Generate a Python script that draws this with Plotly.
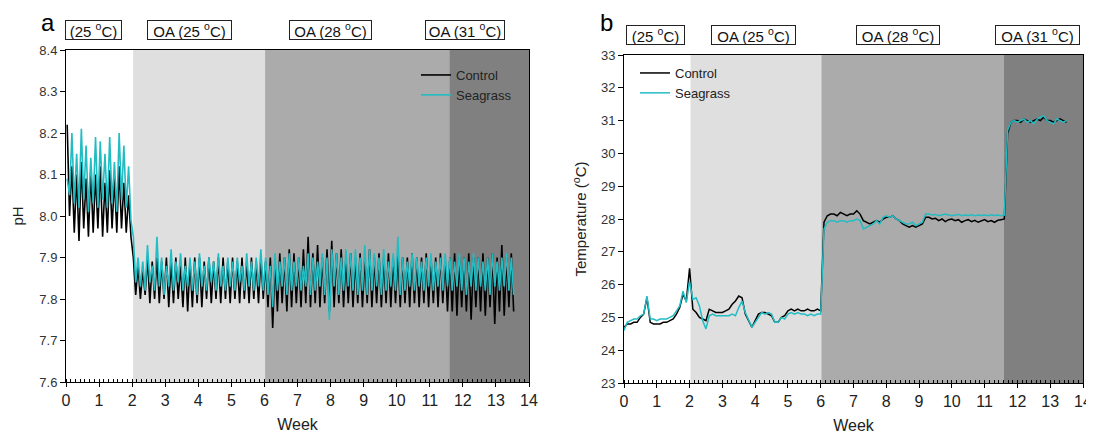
import plotly.graph_objects as go

# ---------------- data ----------------
# pH: daily maximum / minimum (one value per day, day 0 .. 94)
ph_seagrass_high = [
    8.09, 8.20, 8.15, 8.21, 8.17, 8.14, 8.19, 8.18, 8.15, 8.19, 8.13, 8.20, 8.17, 8.12,
    7.95, 7.90, 7.89, 7.93, 7.88, 7.95, 7.90, 7.88, 7.92, 7.89, 7.91, 7.88, 7.90, 7.89,
    7.91, 7.88, 7.90, 7.89, 7.91, 7.88, 7.90, 7.89, 7.90, 7.88, 7.91, 7.89, 7.90, 7.92,
    7.90, 7.88, 7.91, 7.89, 7.90, 7.91, 7.89, 7.90, 7.88, 7.91,
    7.90, 7.89, 7.91, 7.90, 7.92, 7.91, 7.90, 7.92, 7.91, 7.92,
    7.90, 7.93, 7.92, 7.91, 7.90, 7.92, 7.89, 7.91, 7.95, 7.90,
    7.89, 7.91, 7.90, 7.89, 7.90, 7.91, 7.89, 7.90, 7.91,
    7.90, 7.89, 7.91, 7.90, 7.89, 7.91, 7.90, 7.89, 7.90, 7.91, 7.89, 7.90, 7.91, 7.90,
]
ph_seagrass_low = [
    8.05, 8.03, 8.02, 8.04, 8.01, 8.03, 8.02, 8.04, 8.02, 8.03, 8.01, 8.04, 8.02, 7.99,
    7.84, 7.83, 7.82, 7.84, 7.82, 7.83, 7.81, 7.83, 7.82, 7.84, 7.82, 7.83, 7.82, 7.81,
    7.83, 7.82, 7.84, 7.82, 7.83, 7.82, 7.83, 7.82, 7.84, 7.82, 7.83, 7.82, 7.83, 7.82,
    7.81, 7.78, 7.82, 7.83, 7.81, 7.82, 7.83, 7.82, 7.83, 7.81,
    7.82, 7.83, 7.81, 7.75, 7.83, 7.81, 7.82, 7.83, 7.82, 7.81,
    7.82, 7.81, 7.82, 7.83, 7.81, 7.82, 7.83, 7.82, 7.81, 7.82,
    7.83, 7.82, 7.83, 7.82, 7.83, 7.82, 7.83, 7.82, 7.83,
    7.82, 7.83, 7.82, 7.81, 7.83, 7.82, 7.83, 7.82, 7.81, 7.83, 7.82, 7.83, 7.82, 7.81,
]
ph_control_high = [
    8.22, 8.12, 8.10, 8.13, 8.09, 8.11, 8.10, 8.12, 8.08, 8.11, 8.09, 8.12, 8.08, 8.05,
    7.90, 7.88, 7.87, 7.90, 7.89, 7.90, 7.89, 7.90, 7.89, 7.90, 7.88, 7.90, 7.89, 7.90,
    7.90, 7.89, 7.90, 7.89, 7.90, 7.90, 7.89, 7.90, 7.89, 7.90, 7.89, 7.90, 7.89, 7.90,
    7.89, 7.90, 7.89, 7.91, 7.90, 7.92, 7.91, 7.90, 7.92, 7.95,
    7.91, 7.93, 7.90, 7.92, 7.94, 7.91, 7.92, 7.90, 7.91, 7.90,
    7.91, 7.90, 7.92, 7.90, 7.91, 7.90, 7.91, 7.90, 7.91, 7.90,
    7.90, 7.91, 7.90, 7.90, 7.91, 7.90, 7.90, 7.91, 7.90,
    7.90, 7.91, 7.90, 7.90, 7.91, 7.90, 7.90, 7.91, 7.90, 7.91, 7.90, 7.93, 7.90, 7.91,
]
ph_control_low = [
    8.00, 7.96, 7.94, 7.97, 7.95, 7.96, 7.97, 7.95, 7.96, 7.97, 7.96, 7.97, 7.96, 7.95,
    7.81, 7.80, 7.81, 7.79, 7.80, 7.79, 7.80, 7.78, 7.79, 7.80, 7.78, 7.77, 7.78, 7.79,
    7.78, 7.80, 7.79, 7.80, 7.79, 7.80, 7.79, 7.80, 7.79, 7.80, 7.79, 7.80, 7.79, 7.80,
    7.78, 7.73, 7.77, 7.79, 7.77, 7.78, 7.79, 7.78, 7.79, 7.78,
    7.79, 7.78, 7.79, 7.77, 7.78, 7.79, 7.78, 7.79, 7.78, 7.79,
    7.78, 7.79, 7.78, 7.79, 7.78, 7.79, 7.78, 7.79, 7.78, 7.79,
    7.78, 7.79, 7.78, 7.79, 7.78, 7.79, 7.78, 7.79, 7.77,
    7.77, 7.76, 7.78, 7.77, 7.75, 7.78, 7.77, 7.76, 7.78, 7.74, 7.77, 7.76, 7.78, 7.77,
]

# Temperature (deg C), sampled every 0.1 week from week 0.0 to 13.5
temp_seagrass = [
    24.60, 24.85, 24.90, 24.95, 24.95, 25.05, 25.10, 25.65, 24.95, 24.95,
    24.90, 24.95, 24.95, 24.95, 25.00, 25.05, 25.20, 25.35, 25.80, 25.45,
    26.10, 25.55, 25.60, 25.35, 24.90, 24.65, 25.05, 25.10, 25.05, 25.05,
    25.05, 25.05, 25.05, 25.10, 25.05, 25.30, 25.50, 25.15, 24.90, 24.70,
    24.85, 25.00, 25.15, 25.10, 25.15, 25.10, 24.85, 24.85, 25.00, 24.95,
    25.10, 25.15, 25.10, 25.15, 25.10, 25.10, 25.05, 25.10, 25.05, 25.10,
    25.10, 27.70, 27.90, 27.95, 27.95, 27.90, 27.95, 27.95, 27.90, 27.95,
    27.95, 28.00, 27.95, 27.70, 27.75, 27.80, 27.85, 27.95, 27.85, 28.05,
    28.10, 28.05, 28.10, 28.00, 27.95, 27.90, 27.85, 27.85, 27.90, 27.80,
    27.85, 27.90, 28.15, 28.15, 28.12, 28.14, 28.10, 28.12, 28.15, 28.12,
    28.10, 28.12, 28.14, 28.10, 28.12, 28.11, 28.13, 28.10, 28.12, 28.11,
    28.12, 28.10, 28.13, 28.11, 28.12, 28.10, 28.12, 30.70, 30.95, 31.00,
    30.95, 31.00, 31.05, 30.95, 31.00, 30.90, 31.05, 31.10, 31.15, 31.00,
    30.95, 30.90, 31.05, 31.00, 30.95, 31.00,
]
temp_control = [
    24.70, 24.80, 24.80, 24.85, 24.85, 25.00, 25.10, 25.60, 24.85, 24.80,
    24.80, 24.80, 24.85, 24.85, 24.90, 24.95, 25.10, 25.30, 25.70, 25.50,
    26.50, 25.25, 25.15, 25.00, 24.95, 24.90, 25.25, 25.20, 25.15, 25.15,
    25.15, 25.20, 25.25, 25.40, 25.50, 25.65, 25.60, 25.10, 24.90, 24.70,
    24.90, 25.10, 25.15, 25.15, 25.10, 25.05, 24.85, 24.85, 25.00, 25.05,
    25.20, 25.25, 25.20, 25.25, 25.20, 25.20, 25.25, 25.20, 25.20, 25.25,
    25.20, 27.90, 28.10, 28.15, 28.15, 28.10, 28.20, 28.15, 28.10, 28.15,
    28.15, 28.25, 28.15, 27.95, 27.90, 27.85, 27.90, 27.95, 27.90, 28.00,
    28.05, 28.05, 28.10, 28.00, 27.95, 27.85, 27.80, 27.75, 27.80, 27.75,
    27.80, 27.85, 28.05, 28.05, 28.00, 28.02, 27.95, 28.00, 27.92, 27.98,
    28.00, 27.95, 27.98, 27.90, 27.95, 27.98, 27.92, 27.96, 27.90, 27.95,
    27.98, 27.92, 27.95, 27.90, 27.96, 27.98, 28.00, 30.60, 30.95, 31.00,
    31.00, 30.95, 31.05, 31.00, 30.95, 31.00, 31.05, 31.00, 31.10, 31.00,
    31.00, 30.95, 31.00, 31.05, 31.00, 30.95,
]

# treatment phases (week boundaries) and their header labels
phase_start = [0, 2.03, 6.02, 11.59]
phase_end = [2.03, 6.02, 11.59, 14]
phase_color = ["#ffffff", "#dfdfdf", "#ababab", "#808080"]
phase_label = ["(25 <sup>o</sup>C)", "OA (25 <sup>o</sup>C)", "OA (28 <sup>o</sup>C)", "OA (31 <sup>o</sup>C)"]

week_ticks = list(range(0, 15))


def interleave(high, low):
    t, v = [], []
    for d, (h, l) in enumerate(zip(high, low)):
        t += [(d + 0.25) / 7, (d + 0.75) / 7]
        v += [h, l]
    return t, v


ph_ct_t, ph_ct_v = interleave(ph_control_high, ph_control_low)
ph_sg_t, ph_sg_v = interleave(ph_seagrass_high, ph_seagrass_low)
temp_weeks = [i / 10 for i in range(len(temp_seagrass))]

# ---------------- figure ----------------
# the page body adds an 8 px margin, so the figure is 8 px smaller and all
# screen positions are shifted by 8 px
OFF = 8
W, H = 1094 - OFF, 436 - OFF


def px(x):
    return (x - OFF) / W


def py(y):
    return 1 - (y - OFF) / H


FONT = "Arial, Liberation Sans, sans-serif"
CYAN = "#22bcc3"

fig = go.Figure()

fig.add_trace(go.Scatter(x=ph_ct_t, y=ph_ct_v, mode="lines", name="Control",
                         line=dict(color="black", width=1.6), xaxis="x", yaxis="y", legend="legend"))
fig.add_trace(go.Scatter(x=ph_sg_t, y=ph_sg_v, mode="lines", name="Seagrass",
                         line=dict(color=CYAN, width=1.6), xaxis="x", yaxis="y", legend="legend"))
fig.add_trace(go.Scatter(x=temp_weeks, y=temp_control, mode="lines", name="Control",
                         line=dict(color="black", width=1.5), xaxis="x2", yaxis="y2", legend="legend2"))
fig.add_trace(go.Scatter(x=temp_weeks, y=temp_seagrass, mode="lines", name="Seagrass",
                         line=dict(color=CYAN, width=1.5), xaxis="x2", yaxis="y2", legend="legend2"))

# phase shading
for xr, yr in (("x", "y"), ("x2", "y2")):
    for s, e, c in zip(phase_start, phase_end, phase_color):
        fig.add_shape(type="rect", xref=xr, yref=yr + " domain", x0=s, x1=e, y0=0, y1=1,
                      fillcolor=c, line=dict(width=0), layer="below")

# header boxes: (left, right) pixel edges
hdr_a = [(65, 122), (147, 232), (289, 372), (425, 505)]
hdr_b = [(626, 685), (711, 796), (856, 940), (995, 1080)]
for boxes, cy in ((hdr_a, 30), (hdr_b, 35)):
    for (l, r), lab in zip(boxes, phase_label):
        fig.add_annotation(xref="paper", yref="paper", x=px((l + r) / 2), y=py(cy), text=lab,
                           showarrow=False, font=dict(family=FONT, size=15, color="#111"),
                           width=r - l - 2, height=18, align="center",
                           bordercolor="#222", borderwidth=1, borderpad=0, bgcolor="white",
                           xanchor="center", yanchor="middle")

# panel letters
fig.add_annotation(xref="paper", yref="paper", x=px(48), y=py(23), text="a", showarrow=False,
                   font=dict(family=FONT, size=24, color="black"), xanchor="center", yanchor="middle")
fig.add_annotation(xref="paper", yref="paper", x=px(606), y=py(23), text="b", showarrow=False,
                   font=dict(family=FONT, size=24, color="black"), xanchor="center", yanchor="middle")

xcommon = dict(range=[0, 14], tickmode="array", tickvals=week_ticks, ticks="outside", ticklen=4,
               tickcolor="black", showline=True, linecolor="black", linewidth=1, mirror=True,
               showgrid=False, zeroline=False, automargin=False,
               tickfont=dict(family=FONT, size=16, color="#222"),
               minor=dict(dtick=1 / 7, tick0=0, ticks="inside", ticklen=3, tickcolor="black", showgrid=False),
               title=dict(text="Week", font=dict(family=FONT, size=16, color="#222"), standoff=10))
ycommon = dict(ticks="outside", ticklen=5, tickcolor="black", showline=True, linecolor="black",
               linewidth=1, mirror=True, showgrid=False, zeroline=False, automargin=False,
               tickfont=dict(family=FONT, size=13, color="#333"))

fig.update_layout(
    width=W, height=H, margin=dict(l=0, r=0, t=0, b=0),
    paper_bgcolor="white", plot_bgcolor="white",
    font=dict(family=FONT, color="#222"),
    xaxis=dict(domain=[px(66), px(529)], anchor="y", **xcommon),
    yaxis=dict(domain=[py(382), py(50)], anchor="x", range=[7.6, 8.4], dtick=0.1,
               tick0=7.6, tickformat=".1f",
               title=dict(text="pH", font=dict(family=FONT, size=15, color="#222"), standoff=12),
               **ycommon),
    xaxis2=dict(domain=[px(624), px(1083)], anchor="y2", **xcommon),
    yaxis2=dict(domain=[py(383), py(55)], anchor="x2", range=[23, 33], dtick=1, tick0=23,
                title=dict(text="Temperature (<sup>o</sup>C)", font=dict(family=FONT, size=15, color="#222"),
                           standoff=10),
                **ycommon),
    legend=dict(x=px(416), y=py(60), xanchor="left", yanchor="top", bgcolor="rgba(0,0,0,0)",
                font=dict(family=FONT, size=13, color="#222"), tracegroupgap=0, itemwidth=30),
    legend2=dict(x=px(635), y=py(58), xanchor="left", yanchor="top", bgcolor="rgba(0,0,0,0)",
                 font=dict(family=FONT, size=13, color="#222"), tracegroupgap=0, itemwidth=30),
    showlegend=True,
)

fig.write_html("out.html")
